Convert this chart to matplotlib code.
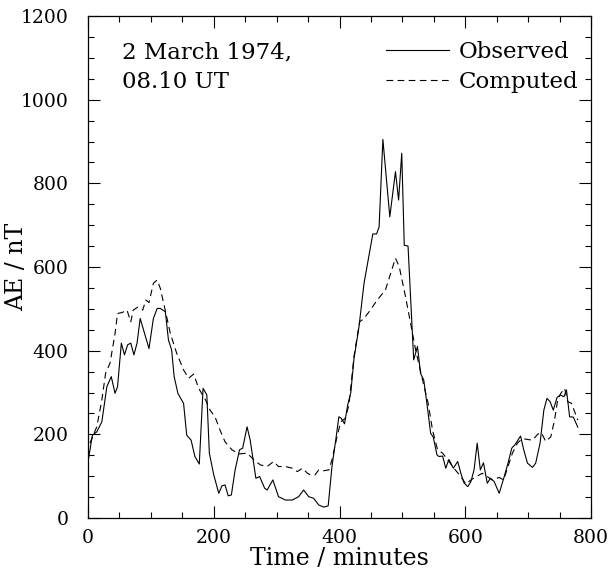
import matplotlib
matplotlib.use("Agg")
import matplotlib.pyplot as plt
from matplotlib.ticker import MultipleLocator

# Observed AE (solid)
obs_time = [0.5, 7, 14, 22, 30, 37, 43, 47, 53, 58,
            63, 68, 73, 78, 83, 90, 97, 104, 110, 115,
            123, 128, 133, 137, 143, 152, 157, 164, 170, 177,
            183, 189, 193, 200, 208, 213, 218, 223, 228, 234,
            241, 246, 253, 258, 267, 273, 281, 285, 294, 303,
            314, 325, 335, 343, 351, 359, 367, 375, 382, 388,
            394, 399, 403, 408, 413, 418, 423, 431, 439, 446,
            453, 459, 463, 469, 480, 489, 494, 499, 503, 509,
            518, 524, 529, 534, 539, 545, 549, 555, 558, 564,
            569, 574, 581, 588, 593, 598, 604, 609, 614, 619,
            624, 629, 635, 640, 646, 654, 662, 668, 674, 679,
            688, 693, 699, 707, 712, 719, 725, 730, 735, 740,
            746, 751, 757, 761, 766, 772, 779]
obs_ae = [139, 198, 206, 230, 314, 338, 298, 314, 418, 390,
          414, 418, 390, 418, 477, 441, 405, 477, 501, 501,
          493, 425, 402, 338, 298, 274, 198, 186, 147, 129,
          310, 294, 155, 103, 59, 77, 79, 53, 55, 115,
          163, 167, 218, 186, 95, 99, 71, 67, 91, 51,
          43, 43, 51, 67, 51, 47, 31, 26, 29, 123,
          186, 242, 238, 225, 270, 300, 380, 457, 561, 620,
          679, 679, 696, 905, 720, 828, 760, 872, 652, 650,
          378, 410, 345, 330, 274, 202, 194, 151, 147, 148,
          119, 140, 119, 135, 107, 84, 75, 87, 115, 179,
          115, 132, 83, 95, 87, 59, 99, 131, 167, 175,
          196, 163, 131, 121, 131, 179, 258, 286, 278, 258,
          288, 294, 290, 306, 242, 241, 217]

# Computed AE (dashed)
comp_time = [3, 14, 22, 28, 35, 43, 47, 54, 62, 68,
             72, 79, 87, 92, 97, 104, 110, 115, 121, 131,
             141, 152, 160, 168, 176, 187, 194, 202, 210, 218,
             229, 240, 253, 264, 274, 285, 295, 303, 314, 325,
             333, 341, 349, 354, 361, 367, 375, 383, 388, 396,
             402, 409, 415, 423, 432, 439, 449, 460, 473, 489,
             495, 505, 513, 521, 529, 534, 541, 548, 556, 564,
             572, 582, 593, 601, 609, 619, 627, 635, 643, 654,
             661, 668, 675, 683, 691, 698, 707, 715, 721, 728,
             736, 742, 747, 752, 758, 763, 769, 773, 779]
comp_ae = [179, 218, 282, 346, 370, 441, 489, 491, 497, 469,
           497, 504, 497, 521, 515, 561, 569, 549, 509, 441,
           394, 354, 334, 344, 310, 282, 258, 242, 210, 182,
           163, 153, 155, 139, 127, 123, 135, 123, 123, 119,
           111, 119, 107, 103, 103, 115, 113, 115, 139, 194,
           230, 238, 270, 386, 469, 477, 497, 521, 545, 621,
           601, 529, 466, 402, 350, 318, 274, 210, 163, 155,
           139, 119, 99, 81, 91, 100, 107, 99, 91, 97,
           91, 123, 155, 179, 190, 188, 186, 200, 204, 183,
           194, 234, 282, 298, 310, 278, 274, 258, 234]

annotation = "2 March 1974,\n08.10 UT"
x_label = "Time / minutes"
y_label = "AE / nT"

plt.rcParams['font.family'] = ['DejaVu Serif']
fig = plt.figure(figsize=(6.10, 5.73), dpi=100)
ax = fig.add_axes([88/610, 55/573, (591-88)/610, (518-16)/573])

ax.plot(obs_time, obs_ae, color='black', lw=0.8, label='Observed')
ax.plot(comp_time, comp_ae, color='black', lw=0.8, ls=(0, (6, 4)), label='Computed')

ax.set_xlim(0, 800)
ax.set_ylim(0, 1200)
ax.xaxis.set_major_locator(MultipleLocator(200))
ax.xaxis.set_minor_locator(MultipleLocator(50))
ax.yaxis.set_major_locator(MultipleLocator(200))
ax.yaxis.set_minor_locator(MultipleLocator(50))
ax.tick_params(which='both', direction='in', top=True, right=True, width=0.8, labelsize=13.5)
ax.tick_params(which='major', length=8.6)
ax.tick_params(axis='x', which='major', pad=8)
ax.tick_params(axis='y', which='major', pad=14)
ax.tick_params(which='minor', length=4.3)
for s in ax.spines.values():
    s.set_linewidth(0.9)

ax.set_xlabel(x_label, fontsize=17, labelpad=0)
ax.set_ylabel(y_label, fontsize=17)
ax.yaxis.set_label_coords((28 - 88) / 503, 0.5)

ax.text(0.0676, 0.949, annotation, transform=ax.transAxes, fontsize=16.5,
        va='top', ha='left', linespacing=1.42)
leg = ax.legend(loc='upper right', frameon=False, fontsize=16.5, handlelength=2.75,
                handletextpad=0.4, labelspacing=0.36, borderaxespad=0, borderpad=0,
                bbox_to_anchor=((578 - 88) / 503, 0.951))

fig.savefig('out.png', dpi=100)
